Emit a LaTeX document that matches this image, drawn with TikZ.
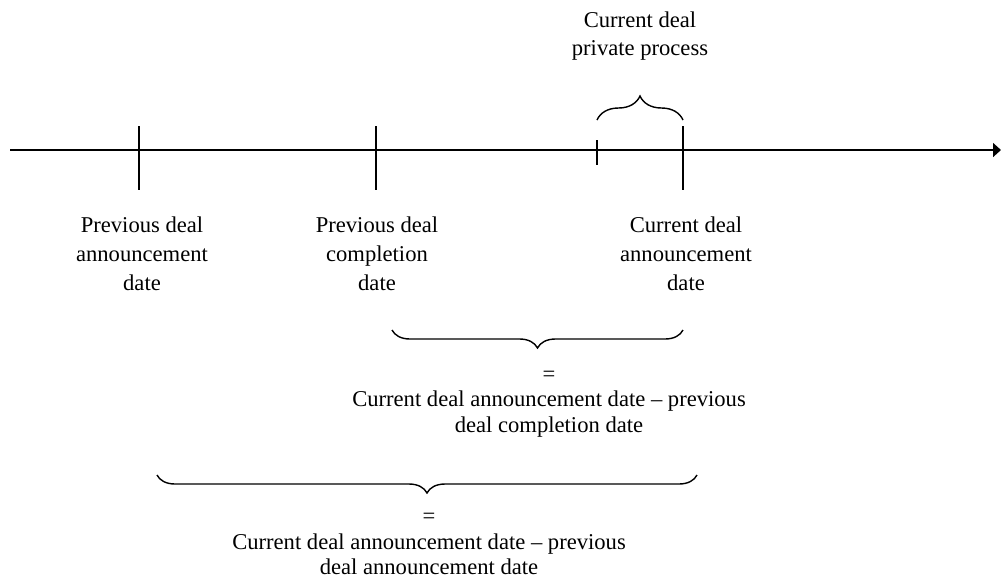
\documentclass[tikz,border=0pt]{standalone}
\usepackage{fontspec}
\setmainfont{Liberation Serif}
\usepackage{tikz}
\usetikzlibrary{arrows.meta, positioning, calc, decorations.pathreplacing}
\usepackage{xcolor}
\definecolor{ink}{HTML}{000000}

\tikzset{
  datelabel/.style={align=center, font=\fontsize{11.3}{14.5}\selectfont, text=ink, inner sep=0pt},
  gaplabel/.style={align=center, font=\fontsize{11.3}{12.8}\selectfont, text=ink, inner sep=0pt},
  tickline/.style={ink, line width=0.8pt},
  bracetop/.style={decorate, decoration={brace, amplitude=12pt}, ink, line width=0.7pt},
  bracelow/.style={decorate, decoration={brace, amplitude=9pt, mirror}, ink, line width=0.7pt},
}

\begin{document}
\begin{tikzpicture}[x=0.5pt, y=-0.5pt]
                \useasboundingbox (0,0) rectangle (1001,580);
                % 1. Time axis
                \coordinate (axisL) at (10,150);
                \coordinate (axisR) at (1001,150);
                \draw[ink, line width=0.8pt, -{Triangle[length=4pt, width=7pt]}] (axisL) -- (axisR);
                \foreach \name/\x in {prevAnn/139, prevCom/376, curAnn/683} {
                    \coordinate (\name T) at (\x,126);
                    \coordinate (\name B) at (\x,190);
                    \draw[tickline] (\name T) -- (\name B);
                }
                \coordinate (privT) at (597,140);
                \coordinate (privB) at (597,165);
                \draw[tickline] (privT) -- (privB);

                % 2. Private process brace
                \coordinate (privL) at (597,120);
                \coordinate (privR) at (683,120);
                \draw[bracetop] (privL) -- (privR);
                \node[datelabel, font=\fontsize{11.3}{14}\selectfont] (privLbl) at (640,36) {Current deal\\private process};

                % 3. Date labels
                \node[datelabel] (prevAnnLbl) at (142,254) {Previous deal\\announcement\\date};
                \node[datelabel] (prevComLbl) at (377,254) {Previous deal\\completion\\date};
                \node[datelabel] (curAnnLbl) at (686,254) {Current deal\\announcement\\date};

                % 4. Gap since completion
                \coordinate (gapAL) at (392,330);
                \coordinate (gapAR) at (683,330);
                \draw[bracelow] (gapAL) -- (gapAR);
                \node[gaplabel] (gapALbl) at (549,404) {=\\Current deal announcement date \textendash{} previous\\deal completion date};

                % 5. Gap since announcement
                \coordinate (gapBL) at (157,475);
                \coordinate (gapBR) at (697,475);
                \draw[bracelow] (gapBL) -- (gapBR);
                \node[gaplabel] (gapBLbl) at (429,544) {=\\Current deal announcement date \textendash{} previous\\deal announcement date};
\end{tikzpicture}
\end{document}
